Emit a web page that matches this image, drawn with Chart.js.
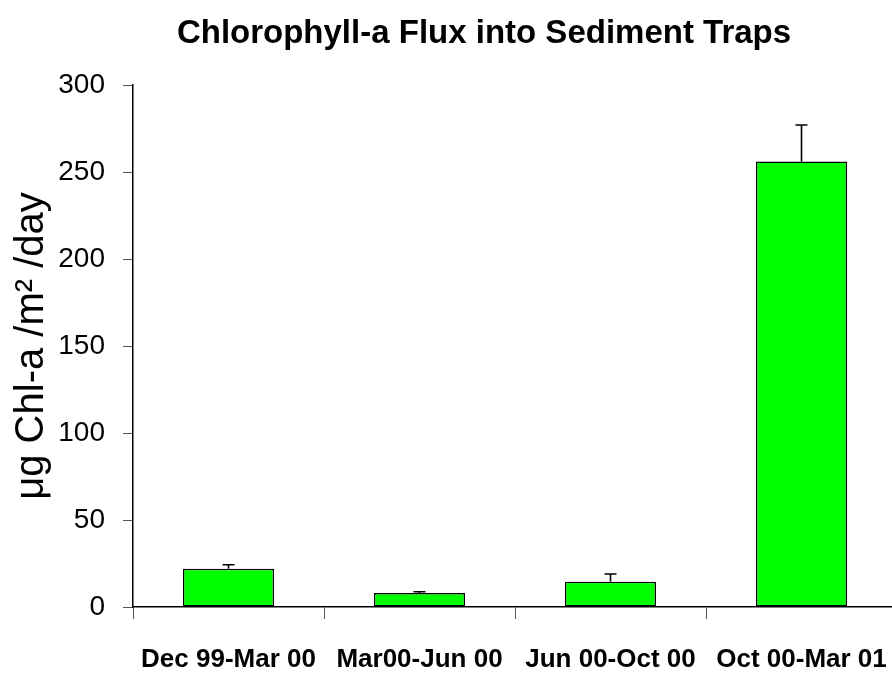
<!DOCTYPE html>
<html>
<head>
<meta charset="utf-8">
<title>Chlorophyll-a Flux into Sediment Traps</title>
<script src="https://cdn.jsdelivr.net/npm/chart.js@4/dist/chart.umd.min.js"></script>
<style>
  html, body { margin: 0; padding: 0; background: #fff; overflow: hidden; }
  .chart { width: 897px; height: 674px; }
</style>
</head>
<body>
<div class="chart">
  <canvas id="fluxChart" width="897" height="674"></canvas>
</div>
<script>
const periods = ['Dec 99-Mar 00', 'Mar00-Jun 00', 'Jun 00-Oct 00', 'Oct 00-Mar 01'];
const flux = [22, 8, 14.5, 256];
const fluxError = [2.3, 0.8, 4.5, 21];
const yTicks = [0, 50, 100, 150, 200, 250, 300];

const fontFamily = '"Liberation Sans", Arial, sans-serif';

// upward error whiskers with a short cap
const errorBars = {
  id: 'errorBars',
  afterDatasetsDraw(chart) {
    const ctx = chart.ctx;
    const y = chart.scales.y;
    const meta = chart.getDatasetMeta(0);
    ctx.save();
    ctx.strokeStyle = '#000';
    ctx.lineWidth = 1.6;
    meta.data.forEach((bar, i) => {
      const top = y.getPixelForValue(flux[i] + fluxError[i]);
      const base = y.getPixelForValue(flux[i]);
      ctx.beginPath();
      ctx.moveTo(bar.x, base);
      ctx.lineTo(bar.x, top);
      ctx.moveTo(bar.x - 6, top);
      ctx.lineTo(bar.x + 6, top);
      ctx.stroke();
    });
    ctx.restore();
  }
};

// title sits a bit right of the canvas centre
const titleShift = {
  id: 'titleShift',
  afterLayout(chart) {
    if (chart.titleBlock) chart.titleBlock.left = 71;
  }
};

const ctx = document.getElementById('fluxChart').getContext('2d');
new Chart(ctx, {
  type: 'bar',
  data: {
    labels: periods,
    datasets: [
      {
        data: flux,
        backgroundColor: '#00FF00',
        borderColor: '#000',
        borderWidth: 1.5,
        borderSkipped: false,
        categoryPercentage: 1,
        barPercentage: 0.477,
      }
    ]
  },
  options: {
    responsive: false,
    animation: false,
    layout: { padding: 0 },
    scales: {
      x: {
        grid: {
          offset: true,
          drawOnChartArea: false,
          drawTicks: true,
          tickLength: 12,
          tickColor: '#555',
        },
        border: { color: '#000', width: 1.5 },
        ticks: {
          color: '#000',
          padding: 25,
          maxRotation: 0,
          autoSkip: false,
          font: { family: fontFamily, size: 26, weight: 'bold' },
        },
        afterFit(scale) {
          scale.height = 67;
          // let the last label run to the edge instead of shrinking the plot
          scale.paddingLeft = 0;
          scale.paddingRight = 0;
        },
      },
      y: {
        min: 0,
        max: 300,
        afterBuildTicks(scale) {
          scale.ticks = yTicks.map(v => ({ value: v }));
        },
        grid: {
          drawOnChartArea: false,
          drawTicks: true,
          tickLength: 10,
          tickColor: '#555',
        },
        border: { color: '#000', width: 1.5 },
        ticks: {
          color: '#000',
          padding: 18,
          font: { family: fontFamily, size: 28 },
        },
        title: {
          display: true,
          text: 'μg Chl-a /m² /day',
          color: '#000',
          padding: { top: 8, bottom: 0 },
          font: { family: fontFamily, size: 40 },
        },
        afterFit(scale) { scale.width = 133; },
      }
    },
    plugins: {
      legend: { display: false },
      tooltip: { enabled: false },
      title: {
        display: true,
        text: 'Chlorophyll-a Flux into Sediment Traps',
        color: '#000',
        padding: { top: 14, bottom: 31.4 },
        font: { family: fontFamily, size: 33, weight: 'bold' },
      }
    }
  },
  plugins: [errorBars, titleShift]
});
</script>
</body>
</html>
